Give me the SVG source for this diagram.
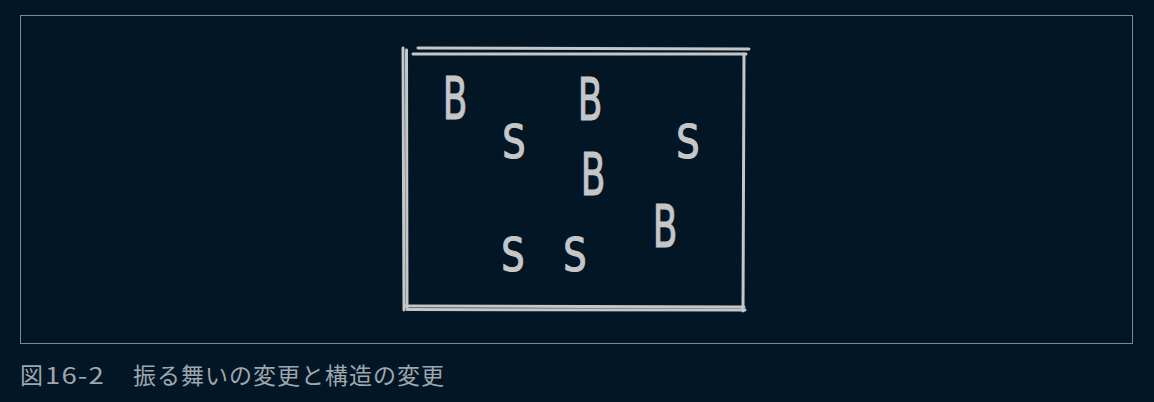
<svg xmlns="http://www.w3.org/2000/svg" width="1154" height="402" viewBox="0 0 1154 402">
<style>
.hand{fill:none;stroke:#c4c6c8;stroke-width:3;stroke-linecap:round}
.B{font-family:"DejaVu Sans","Liberation Sans",sans-serif;font-size:58px;fill:#c4c6c8;text-anchor:middle;stroke:#c4c6c8;stroke-width:1.2}
.S{font-family:"DejaVu Sans","Liberation Sans",sans-serif;font-size:46px;fill:#c4c6c8;text-anchor:middle;stroke:#c4c6c8;stroke-width:1.2}
.cap{font-family:"Noto Sans CJK JP",sans-serif;font-size:23px;fill:#9ea6ae;letter-spacing:1px}
</style>
<rect width="1154" height="402" fill="#021626"/>
<rect x="20.5" y="15.5" width="1112" height="328" fill="none" stroke="#7d8891" stroke-width="1"/>
<g id="box">
<path class="hand" d="M403 48 L404 310"/>
<path class="hand" d="M406.5 50 L407 308"/>
<path class="hand" d="M418 48 L749 49"/>
<path class="hand" d="M413 54 L746 54"/>
<path class="hand" d="M744 54 L743 311"/>
<path class="hand" d="M405 306 L744 307"/>
<path class="hand" d="M407 309.5 L745 310"/>
</g>
<g id="items">
<text class="B" transform="translate(455,119) scale(0.62,1)">B</text>
<text class="B" transform="translate(590,120) scale(0.62,1)">B</text>
<text class="B" transform="translate(593,195) scale(0.62,1)">B</text>
<text class="B" transform="translate(665,247) scale(0.62,1)">B</text>
<text class="S" transform="translate(514,158) scale(0.8,1)">S</text>
<text class="S" transform="translate(688,158) scale(0.8,1)">S</text>
<text class="S" transform="translate(513,271) scale(0.8,1)">S</text>
<text class="S" transform="translate(575,271) scale(0.8,1)">S</text>
</g>
<text class="cap" x="20" y="384">図<tspan x="45" textLength="60" lengthAdjust="spacingAndGlyphs">16-2</tspan><tspan x="133">振る舞いの変更と構造の変更</tspan></text>
</svg>
